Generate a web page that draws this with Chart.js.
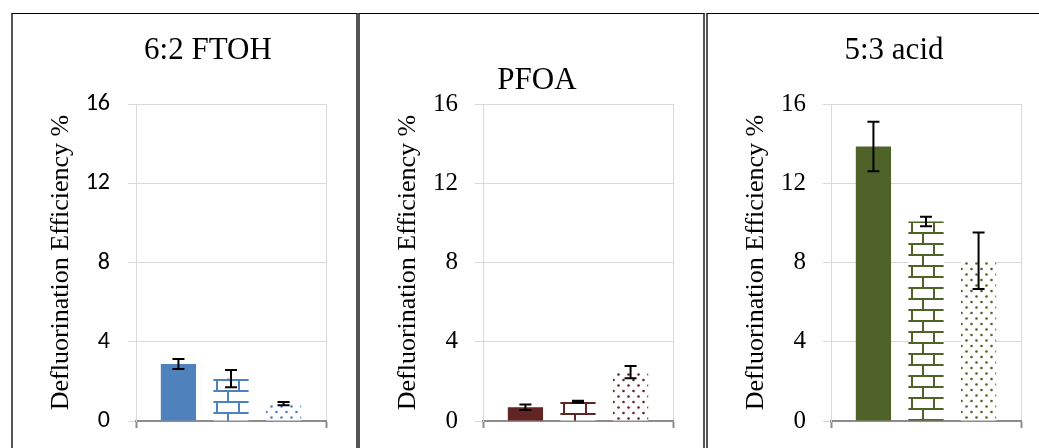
<!DOCTYPE html>
<html><head><meta charset="utf-8">
<script src="https://cdn.jsdelivr.net/npm/chart.js@4.4.1/dist/chart.umd.min.js"></script>
<style>
html,body{margin:0;padding:0;background:#fff}
body{width:1039px;height:448px;overflow:hidden;position:relative;font-family:"Liberation Serif","Times New Roman",serif}
.panel{position:absolute;top:13px;height:450px;width:347px;box-sizing:border-box;border-top:1px solid #000;border-left:2px solid #555;border-right:2px solid #555}
.wrap{position:absolute;top:14px;width:344px;height:434px}
.title{position:absolute;font-family:"Liberation Serif","Times New Roman",serif;font-size:31px;color:#000;white-space:nowrap;transform:translate(-50%,-50%);line-height:1}
</style>
</head><body>
<div id="root"></div>
<script>
// ---- data ----
const categories = ['6:2 FTOH', 'PFOA', '5:3 acid'];
const yTicks = [0, 4, 8, 12, 16];
const ftohValues = [2.88, 2.14, 0.88];
const ftohErrors = [0.25, 0.44, 0.08];
const pfoaValues = [0.69, 0.97, 2.47];
const pfoaErrors = [0.14, 0.05, 0.31];
const acidValues = [13.85, 10.07, 8.09];
const acidErrors = [1.25, 0.24, 1.43];
const axisTitle = 'Defluorination Efficiency %';

const panelValues = [ftohValues, pfoaValues, acidValues];
const panelErrors = [ftohErrors, pfoaErrors, acidErrors];
const panelColors = ['#4F81BD', '#632523', '#4F6228'];
const panelLeft = [11, 358, 706];
const titlePos = [[208, 48], [537, 78], [894, 48]];
const tickFonts = [
  {family: 'Carlito, Lato, "Open Sans", sans-serif', size: 24},
  {family: '"Liberation Serif", "Times New Roman", serif', size: 25},
  {family: '"Liberation Serif", "Times New Roman", serif', size: 25}
];
const tickPad = [18, 17, 17];

function brickPattern(color) {
  const c = document.createElement('canvas'); c.width = 22; c.height = 22;
  const g = c.getContext('2d');
  g.fillStyle = '#fff'; g.fillRect(0, 0, 22, 22);
  g.fillStyle = color;
  g.fillRect(0, 0, 22, 2);
  g.fillRect(0, 11, 22, 2);
  g.fillRect(0, 0, 2, 11);
  g.fillRect(11, 11, 2, 11);
  return g.createPattern(c, 'repeat');
}
function dotPattern(color) {
  const c = document.createElement('canvas'); c.width = 10; c.height = 11;
  const g = c.getContext('2d');
  g.fillStyle = '#fff'; g.fillRect(0, 0, 10, 11);
  g.fillStyle = color;
  g.beginPath(); g.arc(2.5, 2.5, 1.3, 0, Math.PI * 2); g.fill();
  g.beginPath(); g.arc(7.5, 8, 1.3, 0, Math.PI * 2); g.fill();
  return g.createPattern(c, 'repeat');
}

// anchor each pattern to its own bar's top-left corner
const patternAnchorPlugin = {
  id: 'patternAnchor',
  beforeDatasetsDraw(chart) {
    chart.data.datasets.forEach((ds, i) => {
      const bg = ds.backgroundColor;
      if (bg && typeof bg === 'object' && bg.setTransform) {
        const bar = chart.getDatasetMeta(i).data[0];
        const left = bar.x - bar.width / 2;
        bg.setTransform(new DOMMatrix().translate(Math.round(left + 3), Math.round(bar.y)));
      }
    });
  }
};

const errorBarPlugin = {
  id: 'errbars',
  afterDatasetsDraw(chart) {
    const ctx = chart.ctx, y = chart.scales.y;
    chart.data.datasets.forEach((ds, i) => {
      const meta = chart.getDatasetMeta(i);
      meta.data.forEach((bar, j) => {
        const v = ds.data[j], e = ds.errors[j];
        const x = bar.x;
        const yt = y.getPixelForValue(v + e), yb = y.getPixelForValue(v - e);
        ctx.save();
        ctx.strokeStyle = '#000'; ctx.lineWidth = 2;
        ctx.beginPath();
        ctx.moveTo(x, yt); ctx.lineTo(x, yb);
        ctx.moveTo(x - 6, yt); ctx.lineTo(x + 6, yt);
        ctx.moveTo(x - 6, yb); ctx.lineTo(x + 6, yb);
        ctx.stroke();
        ctx.restore();
      });
    });
  }
};

const root = document.getElementById('root');
categories.forEach((cat, p) => {
  const panel = document.createElement('div');
  panel.className = 'panel'; panel.style.left = panelLeft[p] + 'px';
  if (p === 2) panel.style.width = '360px';
  root.appendChild(panel);
  const wrap = document.createElement('div');
  wrap.className = 'wrap'; wrap.style.left = (panelLeft[p] + 2) + 'px';
  const cv = document.createElement('canvas');
  cv.width = 344; cv.height = 434;
  cv.style.width = '344px'; cv.style.height = '434px';
  wrap.appendChild(cv); root.appendChild(wrap);
  const t = document.createElement('div');
  t.className = 'title'; t.textContent = cat;
  t.style.left = titlePos[p][0] + 'px'; t.style.top = titlePos[p][1] + 'px';
  root.appendChild(t);

  const col = panelColors[p];
  const fills = [col, brickPattern(col), dotPattern(col)];
  const datasets = panelValues[p].map((v, i) => ({
    data: [v], errors: [panelErrors[p][i]],
    backgroundColor: fills[i], borderWidth: 0
  }));

  new Chart(cv, {
    type: 'bar',
    data: {labels: [cat], datasets},
    options: {
      responsive: false, animation: false, devicePixelRatio: 1,
      layout: {padding: {top: 90, right: 31, bottom: 7, left: 0}},
      plugins: {legend: {display: false}, tooltip: {enabled: false}, title: {display: false}},
      datasets: {bar: {categoryPercentage: 0.83, barPercentage: 0.67}},
      scales: {
        x: {
          type: 'category', offset: true,
          ticks: {display: false},
          grid: {display: true, offset: true, color: '#D9D9D9', lineWidth: 1, tickLength: 7, tickColor: '#8C8C8C', tickWidth: 2},
          border: {display: true, color: '#8C8C8C', width: 2},
          afterFit(s) { s.height = 20; }
        },
        y: {
          min: 0, max: 16,
          afterBuildTicks(s) { s.ticks = yTicks.map(v => ({value: v})); },
          ticks: {color: '#000', font: tickFonts[p], padding: tickPad[p]},
          grid: {color: '#D9D9D9', lineWidth: 1, tickLength: 8, tickColor: '#D9D9D9'},
          border: {display: true, color: '#D9D9D9', width: 1},
          title: {display: true, text: axisTitle, color: '#000',
            font: {family: '"Liberation Serif", "Times New Roman", serif', size: 26},
            padding: {top: 33, bottom: 0}},
          afterFit(s) { s.width = 123; s.paddingTop = 0; s.paddingBottom = 0; }
        }
      }
    },
    plugins: [patternAnchorPlugin, errorBarPlugin]
  });
});
</script>
</body></html>
